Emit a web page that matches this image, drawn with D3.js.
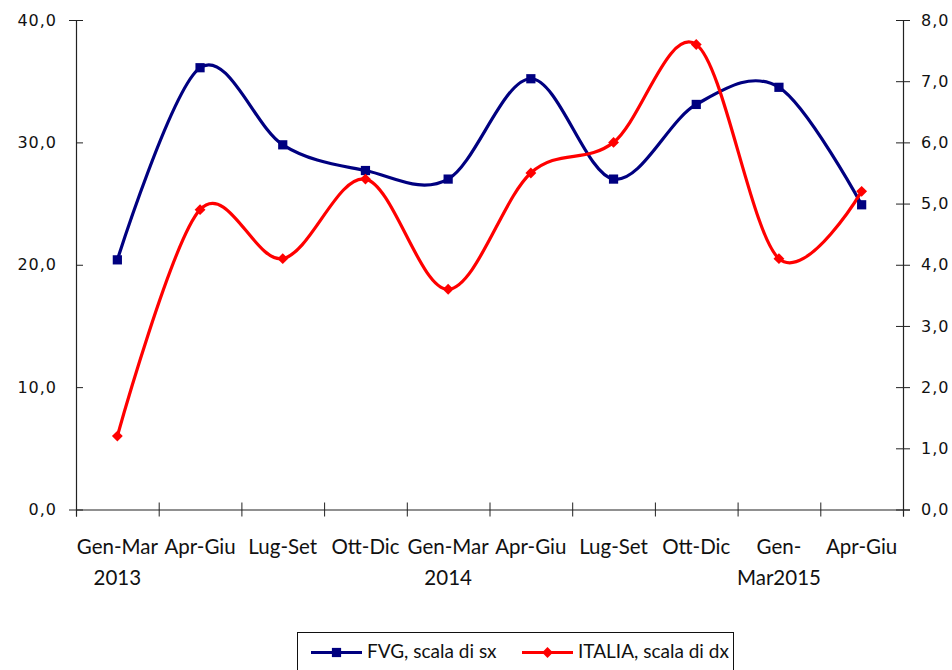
<!DOCTYPE html>
<html>
<head>
<meta charset="utf-8">
<script src="https://cdn.jsdelivr.net/npm/d3@7"></script>
<style>
  body { margin: 0; background: #fff; }
  text { fill: #111; }
</style>
</head>
<body>
<div id="chart"></div>
<script>
// DATA
// ----------------------------------------
const PERIOD_LABELS = ["Gen-Mar", "Apr-Giu", "Lug-Set", "Ott-Dic", "Gen-Mar", "Apr-Giu", "Lug-Set", "Ott-Dic", "Gen-", "Apr-Giu"];
const YEAR_LABELS = ["2013", "", "", "", "2014", "", "", "", "Mar2015", ""];
const FVG_VALUES = [20.4, 36.1, 29.8, 27.7, 27.0, 35.2, 27.0, 33.1, 34.5, 24.9];
const ITALIA_VALUES = [1.2, 4.9, 4.1, 5.4, 3.6, 5.5, 6.0, 7.6, 4.1, 5.2];
const LEFT_TICKS = [0, 10, 20, 30, 40];
const RIGHT_TICKS = [0, 1, 2, 3, 4, 5, 6, 7, 8];
const LEGEND_LABELS = ["FVG, scala di sx", "ITALIA, scala di dx"];

// LAYOUT
// ----------------------------------------
const WIDTH = 952;
const HEIGHT = 670;
const PLOT = { left: 76, right: 903, top: 20, bottom: 509.5 };
const COLOR_FVG = "#000080";
const COLOR_ITA = "#ff0000";
const LABEL_FONT = "Lato, 'DejaVu Sans', sans-serif";
const TICK_FONT = "'DejaVu Sans', sans-serif";

const svg = d3.select("#chart").append("svg")
    .attr("width", WIDTH)
    .attr("height", HEIGHT);

// Scales
const x = d3.scaleBand()
    .domain(d3.range(PERIOD_LABELS.length))
    .range([PLOT.left, PLOT.right])
    .padding(0);
const xEdges = d3.scaleLinear()
    .domain([0, PERIOD_LABELS.length])
    .range([PLOT.left, PLOT.right]);
const yLeft = d3.scaleLinear().domain([0, 40]).range([PLOT.bottom, PLOT.top]);
const yRight = d3.scaleLinear().domain([0, 8]).range([PLOT.bottom, PLOT.top]);
const fmt = v => d3.format(".1f")(v).replace(".", ",");
const cx = i => x(i) + x.bandwidth() / 2;

// Axes (ticks cross the axis line)
function styleAxis(g) {
    g.select(".domain").attr("stroke", "#222").attr("stroke-width", 1.2);
    g.selectAll(".tick line").attr("stroke", "#222");
}

const leftAxis = svg.append("g")
    .attr("transform", `translate(${PLOT.left},0)`)
    .call(d3.axisLeft(yLeft).tickValues(LEFT_TICKS).tickFormat(fmt).tickSizeOuter(0).tickSize(7).tickPadding(12));
leftAxis.selectAll(".tick line").attr("x2", 7);
leftAxis.selectAll("text").style("font", `16px ${TICK_FONT}`).attr("letter-spacing", 1);
styleAxis(leftAxis);

const rightAxis = svg.append("g")
    .attr("transform", `translate(${PLOT.right},0)`)
    .call(d3.axisRight(yRight).tickValues(RIGHT_TICKS).tickFormat(fmt).tickSizeOuter(0).tickSize(7).tickPadding(11));
rightAxis.selectAll(".tick line").attr("x2", -7).attr("x1", 7);
rightAxis.selectAll("text").style("font", `16px ${TICK_FONT}`).attr("letter-spacing", 1);
styleAxis(rightAxis);

const bottomAxis = svg.append("g")
    .attr("transform", `translate(0,${PLOT.bottom})`)
    .call(d3.axisBottom(xEdges).tickValues(d3.range(PERIOD_LABELS.length + 1)).tickFormat("").tickSizeOuter(0).tickSize(7));
bottomAxis.selectAll(".tick line").attr("y1", -7);
styleAxis(bottomAxis);

// Category labels
const labels = svg.append("g").style("font", `20.5px ${LABEL_FONT}`);
labels.selectAll("text.period")
    .data(PERIOD_LABELS)
    .enter().append("text")
    .attr("class", "period")
    .attr("x", (d, i) => cx(i))
    .attr("y", 554)
    .attr("text-anchor", "middle")
    .text(d => d);
labels.selectAll("text.year")
    .data(YEAR_LABELS)
    .enter().append("text")
    .attr("class", "year")
    .attr("x", (d, i) => cx(i))
    .attr("y", 585)
    .attr("text-anchor", "middle")
    .text(d => d);

// Lines
const lineFvg = d3.line()
    .x((d, i) => cx(i))
    .y(d => yLeft(d))
    .curve(d3.curveCatmullRom.alpha(0));
const lineIta = d3.line()
    .x((d, i) => cx(i))
    .y(d => yRight(d))
    .curve(d3.curveCatmullRom.alpha(0));

svg.append("path")
    .datum(FVG_VALUES)
    .attr("d", lineFvg)
    .attr("fill", "none")
    .attr("stroke", COLOR_FVG)
    .attr("stroke-width", 3.2);

svg.append("path")
    .datum(ITALIA_VALUES)
    .attr("d", lineIta)
    .attr("fill", "none")
    .attr("stroke", COLOR_ITA)
    .attr("stroke-width", 3.2);

// Markers
const square = d3.symbol().type(d3.symbolSquare).size(85);
const diamond = d3.symbol().type(d3.symbolDiamond2).size(75);

svg.append("g").selectAll("path")
    .data(FVG_VALUES)
    .enter().append("path")
    .attr("d", square)
    .attr("transform", (d, i) => `translate(${cx(i)},${yLeft(d)})`)
    .attr("fill", COLOR_FVG);

svg.append("g").selectAll("path")
    .data(ITALIA_VALUES)
    .enter().append("path")
    .attr("d", diamond)
    .attr("transform", (d, i) => `translate(${cx(i)},${yRight(d)})`)
    .attr("fill", COLOR_ITA);

// Legend
const legend = svg.append("g");
legend.append("rect")
    .attr("x", 297.5).attr("y", 632.5)
    .attr("width", 436).attr("height", 50)
    .attr("fill", "#fff")
    .attr("stroke", "#111");

const legendItems = [
    { label: LEGEND_LABELS[0], color: COLOR_FVG, symbol: square, x: 311 },
    { label: LEGEND_LABELS[1], color: COLOR_ITA, symbol: diamond, x: 522 }
];
legendItems.forEach(item => {
    legend.append("line")
        .attr("x1", item.x).attr("x2", item.x + 51)
        .attr("y1", 652.5).attr("y2", 652.5)
        .attr("stroke", item.color)
        .attr("stroke-width", 3);
    legend.append("path")
        .attr("d", item.symbol)
        .attr("transform", `translate(${item.x + 25.5},652.5)`)
        .attr("fill", item.color);
    legend.append("text")
        .attr("x", item.x + 56)
        .attr("y", 658)
        .style("font", `19px ${LABEL_FONT}`)
        .text(item.label);
});
</script>
</body>
</html>
